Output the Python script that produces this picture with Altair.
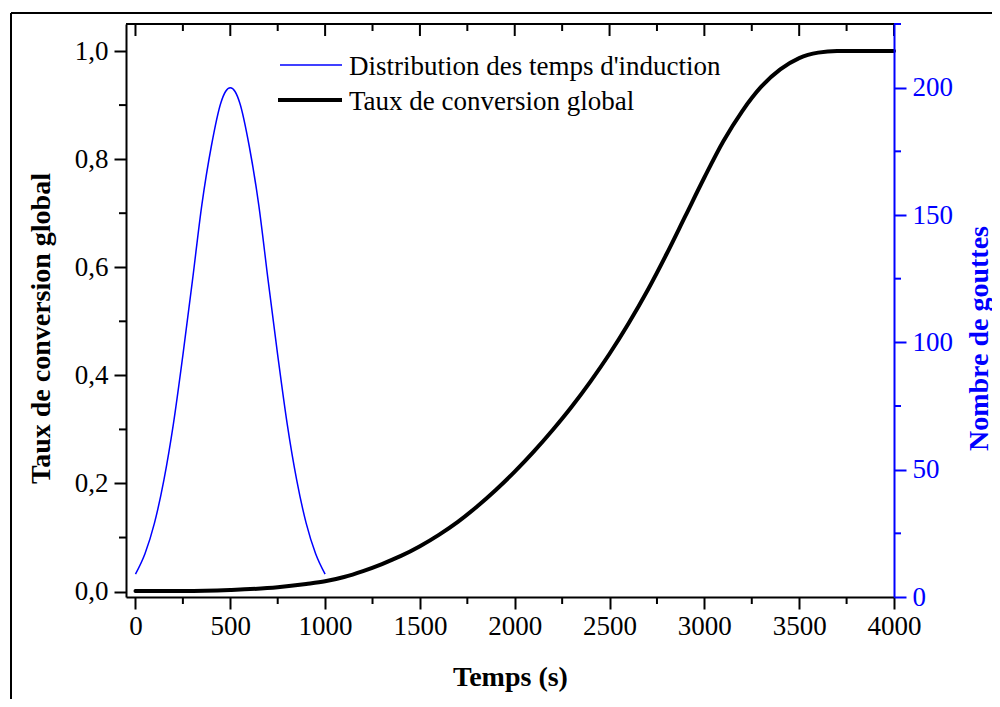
import altair as alt
import pandas as pd

# ---- data ----
time_blue = [0, 50, 100, 150, 200, 250, 300, 350, 400, 450, 475, 500, 525, 550, 600, 650, 700, 750, 800, 850, 900, 950, 1000]
count_blue = [9, 17, 29, 46, 68, 95, 124, 154, 177, 194, 198.5, 200, 198.5, 194, 177, 154, 124, 95, 68, 46, 29, 17, 9]

time_black = [0, 250, 500, 750, 900, 1000, 1100, 1200, 1300, 1400, 1500, 1600, 1700, 1800, 1900, 2000,
              2100, 2200, 2300, 2400, 2500, 2600, 2700, 2800, 2900, 3000, 3100, 3200, 3300, 3400,
              3500, 3600, 3700, 4000]
conv_black = [0.001, 0.001, 0.003, 0.008, 0.014, 0.019, 0.027, 0.038, 0.051, 0.066, 0.084, 0.105, 0.129,
              0.157, 0.188, 0.222, 0.259, 0.299, 0.342, 0.389, 0.440, 0.496, 0.557, 0.624, 0.695, 0.766,
              0.833, 0.889, 0.934, 0.966, 0.987, 0.997, 1.0, 1.0]

x_major = [0, 500, 1000, 1500, 2000, 2500, 3000, 3500, 4000]
x_minor = [250, 750, 1250, 1750, 2250, 2750, 3250, 3750]
yl_major = [0.0, 0.2, 0.4, 0.6, 0.8, 1.0]
yl_minor = [0.1, 0.3, 0.5, 0.7, 0.9]
yr_major = [0, 50, 100, 150, 200]
yr_minor = [25, 75, 125, 175, 225]

series_names = ["Distribution des temps d'induction", "Taux de conversion global"]
x_title = "Temps (s)"
yl_title = "Taux de conversion global"
yr_title = "Nombre de gouttes"

# ---- layout / style ----
W, H = 768, 573
XDOM = [-50, 4000]
YLDOM = [-0.01, 1.05]
YRDOM = [0, 225]
SERIF = "Liberation Serif"
BLUE = "#0000ff"
LBL = 27
TTL = 28

xs = alt.Scale(domain=XDOM, nice=False, zero=False)
yls = alt.Scale(domain=YLDOM, nice=False, zero=False)
yrs = alt.Scale(domain=YRDOM, nice=False, zero=False)

df_black = pd.DataFrame({"t": time_black, "v": conv_black})
df_blue = pd.DataFrame({"t": time_blue, "v": count_blue})

x_axis = alt.Axis(values=x_major, title=x_title, orient="bottom", grid=False,
                  tickSize=12, tickWidth=2, tickColor="black", domainWidth=2, domainColor="black",
                  labelFont=SERIF, labelFontSize=LBL, labelColor="black", labelPadding=4,
                  labelFlush=False, labelOverlap=False, format="d",
                  titleFont=SERIF, titleFontSize=TTL, titleFontWeight="bold", titleColor="black",
                  titleBaseline="alphabetic", titleY=88)

yl_axis = alt.Axis(values=yl_major, title=yl_title, orient="left", grid=False,
                   labelExpr="replace(format(datum.value, '.1f'), '.', ',')",
                   tickSize=12, tickWidth=2, tickColor="black", domainWidth=2, domainColor="black",
                   labelFont=SERIF, labelFontSize=LBL, labelColor="black", labelPadding=6,
                   labelFlush=False, labelOverlap=False,
                   titleFont=SERIF, titleFontSize=TTL, titleFontWeight="bold", titleColor="black",
                   titleAngle=270, titleBaseline="middle", titleAlign="center", titleX=-85, titleY=304)

yr_axis = alt.Axis(values=yr_major, title=yr_title, orient="right", grid=False, zindex=1,
                   tickSize=12, tickWidth=2, tickColor=BLUE, domainWidth=2, domainColor=BLUE,
                   labelFont=SERIF, labelFontSize=LBL, labelColor=BLUE, labelPadding=6,
                   labelFlush=False, labelOverlap=False, format="d",
                   titleFont=SERIF, titleFontSize=TTL, titleFontWeight="bold", titleColor=BLUE,
                   titleAngle=270, titleBaseline="middle", titleAlign="center", titleX=85, titleY=314)

X = lambda: alt.X("t:Q", scale=xs, axis=x_axis)
YL = lambda: alt.Y("v:Q", scale=yls, axis=yl_axis)
YR = lambda: alt.Y("v:Q", scale=yrs, axis=yr_axis)

black = alt.Chart(df_black).mark_line(color="black", strokeWidth=4, strokeCap="round",
                                      interpolate="monotone").encode(x=X(), y=YL())

one = pd.DataFrame({"k": [0]})

top_line = alt.Chart(one).mark_rule(color="black", strokeWidth=2).encode(
    x=alt.value(0), x2=alt.value(W), y=alt.value(0))

bottom_minor = alt.Chart(pd.DataFrame({"t": x_minor})).mark_rule(color="black", strokeWidth=2).encode(
    x=X(), y=alt.value(H), y2=alt.value(H + 7))
top_major = alt.Chart(pd.DataFrame({"t": x_major})).mark_rule(color="black", strokeWidth=2).encode(
    x=X(), y=alt.value(0), y2=alt.value(12))
top_minor = alt.Chart(pd.DataFrame({"t": x_minor})).mark_rule(color="black", strokeWidth=2).encode(
    x=X(), y=alt.value(0), y2=alt.value(7))
left_minor = alt.Chart(pd.DataFrame({"v": yl_minor})).mark_rule(color="black", strokeWidth=2).encode(
    y=YL(), x=alt.value(-7), x2=alt.value(0))

frame_left = alt.Chart(one).mark_rule(color="black", strokeWidth=2).encode(
    x=alt.value(-115), y=alt.value(-11), y2=alt.value(H + 120))
frame_top = alt.Chart(one).mark_rule(color="black", strokeWidth=2).encode(
    x=alt.value(-115), x2=alt.value(W + 120), y=alt.value(-11))

leg_blue_line = alt.Chart(one).mark_rule(color=BLUE, strokeWidth=1.5).encode(
    x=alt.value(154), x2=alt.value(216), y=alt.value(41))
leg_black_line = alt.Chart(one).mark_rule(color="black", strokeWidth=4).encode(
    x=alt.value(152), x2=alt.value(216), y=alt.value(76))
leg_blue_text = alt.Chart(pd.DataFrame({"label": [series_names[0]]})).mark_text(
    align="left", baseline="alphabetic", font=SERIF, fontSize=LBL, color="black").encode(
    x=alt.value(223), y=alt.value(51), text="label:N")
leg_black_text = alt.Chart(pd.DataFrame({"label": [series_names[1]]})).mark_text(
    align="left", baseline="alphabetic", font=SERIF, fontSize=LBL, color="black").encode(
    x=alt.value(223), y=alt.value(86), text="label:N")

left_group = alt.layer(black, bottom_minor, top_major, top_minor, left_minor, top_line,
                       frame_left, frame_top, leg_blue_line, leg_black_line,
                       leg_blue_text, leg_black_text)

blue = alt.Chart(df_blue).mark_line(color=BLUE, strokeWidth=1.5, interpolate="monotone").encode(
    x=X(), y=YR())
right_minor = alt.Chart(pd.DataFrame({"v": yr_minor})).mark_rule(color=BLUE, strokeWidth=2).encode(
    y=YR(), x=alt.value(W), x2=alt.value(W + 7))

right_group = alt.layer(blue, right_minor)

chart = alt.layer(left_group, right_group).resolve_scale(y="independent").properties(
    width=W, height=H,
    padding={"left": 118, "top": 16, "right": 98, "bottom": 102},
    autosize=alt.AutoSizeParams(type="none"),
    background="white",
).configure(font=SERIF).configure_view(stroke=None)

chart.save("out.html", embed_options={"renderer": "svg", "actions": False})
